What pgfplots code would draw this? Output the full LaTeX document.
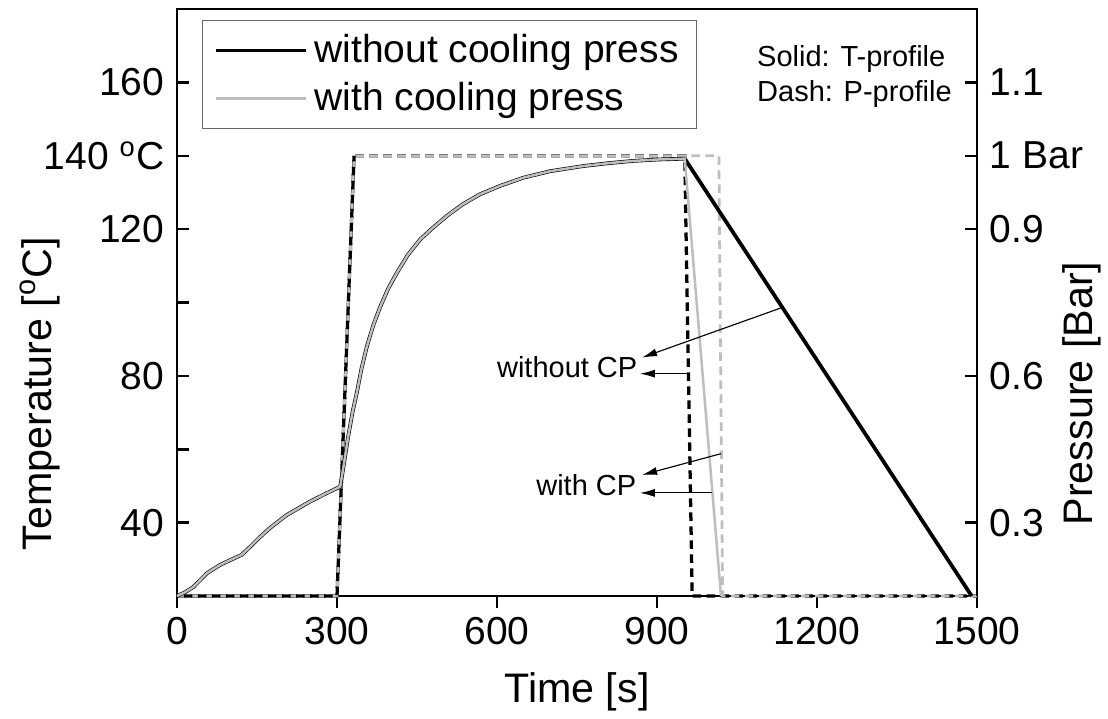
\documentclass[border=0pt]{standalone}
\usepackage{fontspec}
\setmainfont{Liberation Sans}
\usepackage{pgfplots}
\pgfplotsset{compat=1.18}
\usetikzlibrary{arrows.meta}
\definecolor{cpgray}{HTML}{BEBEBE}
\newcommand{\dg}{\textsuperscript{o}}
\newcommand{\ticksize}{\fontsize{15.6}{18}\selectfont}
\newcommand{\notesize}{\fontsize{11.6}{14}\selectfont}
\pgfplotsset{
  frame/.style={
    scale only axis, width=320pt, height=234.8pt,
    xmin=0, xmax=1500, ymin=20, ymax=180,
    axis line style={line width=1pt},
    tick style={line width=1pt, black},
    tick align=inside, major tick length=4.8pt,
    every tick label/.append style={font=\ticksize},
    /pgf/number format/assume math mode=true,
    label style={font=\fontsize{16.5}{19}\selectfont},
  },
}
\begin{document}
\begin{tikzpicture}
\begin{axis}[
  frame,
  xtick={0,300,600,900,1200,1500},
  xticklabels={0,300,600,900,1200,1500},
  ytick={40,60,80,100,120,140,160},
  yticklabels={40,,80,,120,{140 \dg C},160},
  xtick pos=lower, ytick pos=left,
  every major x tick/.append style={yshift=-4.8pt},
  xticklabel style={yshift=-4.8pt},
  yticklabel style={xshift=-1.6pt},
  xlabel={Time [s]},
  xlabel style={at={(rel axis cs:0.5,-0.163)}, anchor=center},
  ylabel={Temperature [\dg C]},
  ylabel style={at={(rel axis cs:-0.171,0.345)}, anchor=center},
  clip=false,
  legend style={at={(rel axis cs:0.0313,0.9813)}, anchor=north west,
    draw=black!60, line width=0.4pt, font=\ticksize,
    inner xsep=4.5pt, inner ysep=2.4pt, row sep=0pt,
    nodes={inner xsep=2.75pt, inner ysep=3.2pt}},
  legend image code/.code={\draw[#1] (0pt,0pt) -- (36pt,0pt);},
  legend cell align=left,
]
\coordinate (bl) at (rel axis cs:0,0);
\coordinate (tr) at (rel axis cs:1,1);
% pressure profiles (drawn in the temperature frame: 20 = 0 bar, 140 = 1 bar)
\addplot[black, line width=1.3pt, dash pattern=on 3.4pt off 2.2pt, forget plot]
  coordinates {(0,20) (300,20) (332,140) (952,140) (966,20) (1500,20)};
\addplot[cpgray, line width=1.1pt, dash pattern=on 3.4pt off 2.2pt, forget plot]
  coordinates {(0,20) (300,20) (332,140) (1016,140) (1023,20) (1500,20)};
\addplot[black, line width=1.3pt, dash pattern=on 3.4pt off 2.2pt, dash phase=2.8pt, forget plot]
  coordinates {(0,20) (300,20) (332,140)};
% temperature profiles
\addplot[black, line width=1.5pt] coordinates {
(0,20) (15,21) (31,22.5) (56,26.2) (81,28.5) (100,29.8) (121,31.2) (137,33.4)
(155,36) (174,38.5) (206,42.1) (249,45.7) (280,48) (306,49.8) (313,56)
(321,63.5) (329,70) (337,75.3) (346,82) (356,88) (368,93.8) (381,98.8)
(396,103.8) (412,108) (432,112.8) (456,117.2) (480,120.4) (506,123.6)
(536,126.8) (568,129.5) (606,131.8) (649,134) (700,135.8) (762,137.2)
(810,138) (856,138.6) (905,139) (952,139.2) (1490,20)
};
\addlegendentry{without cooling press}
\addplot[cpgray, line width=1.0pt] coordinates {
(0,20) (15,21) (31,22.5) (56,26.2) (81,28.5) (100,29.8) (121,31.2) (137,33.4)
(155,36) (174,38.5) (206,42.1) (249,45.7) (280,48) (306,49.8) (313,56)
(321,63.5) (329,70) (337,75.3) (346,82) (356,88) (368,93.8) (381,98.8)
(396,103.8) (412,108) (432,112.8) (456,117.2) (480,120.4) (506,123.6)
(536,126.8) (568,129.5) (606,131.8) (649,134) (700,135.8) (762,137.2)
(810,138) (856,138.6) (905,139) (952,139.2) (1020,20)
};
\addlegendentry{with cooling press}
% annotations
\node[anchor=west, align=left, font=\notesize, inner sep=0pt] at (axis cs:1087,161.6)
  {Solid: T-profile\\Dash: P-profile};
\node[anchor=east, font=\notesize, inner sep=0pt] at (axis cs:864,82.5) {without CP};
\node[anchor=east, font=\notesize, inner sep=0pt] at (axis cs:862,50.3) {with CP};
\draw[-{Latex[length=6pt,width=3.2pt]}, line width=0.45pt] (axis cs:1134,98.6) -- (axis cs:872,85);
\draw[-{Latex[length=6pt,width=3.2pt]}, line width=0.45pt] (axis cs:958,80.6) -- (axis cs:868,80.6);
\draw[-{Latex[length=6pt,width=3.2pt]}, line width=0.45pt] (axis cs:1020,58.8) -- (axis cs:872,53.0);
\draw[-{Latex[length=6pt,width=3.2pt]}, line width=0.45pt] (axis cs:1003,48.1) -- (axis cs:868,48.1);
\end{axis}
\begin{axis}[
  frame,
  axis x line=none, axis y line*=right,
  ytick={40,80,120,140,160},
  yticklabels={0.3,0.6,0.9,1 Bar,1.1},
  yticklabel style={xshift=1.6pt},
  ylabel={Pressure [Bar]},
  ylabel style={at={(rel axis cs:1.131,0.345)}, anchor=center},
]
\end{axis}
\pgfresetboundingbox
\path ([xshift=-70.8pt,yshift=-48.8pt]bl) rectangle ([xshift=52.4pt,yshift=3.6pt]tr);
\end{tikzpicture}
\end{document}
